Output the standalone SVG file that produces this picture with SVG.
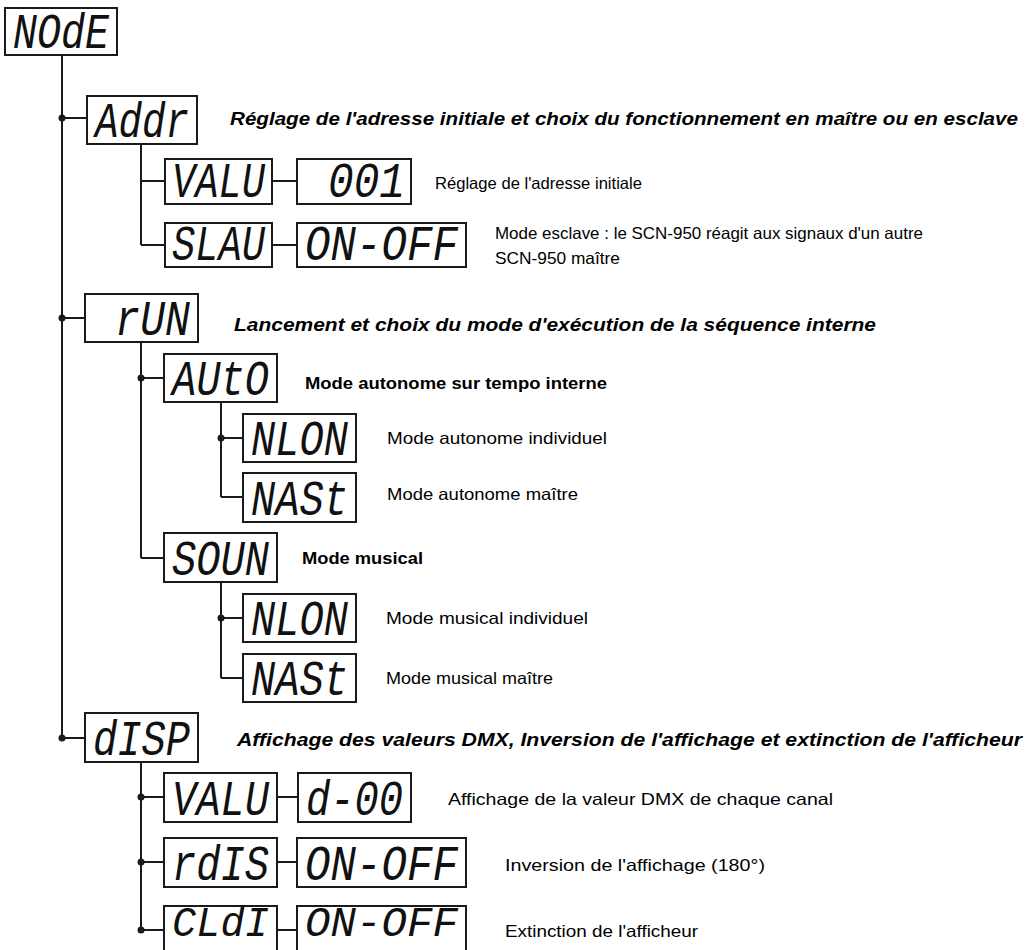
<svg xmlns="http://www.w3.org/2000/svg" width="1030" height="950" viewBox="0 0 1030 950">
<style>
.box{fill:#fff;stroke:#1a1a1a;stroke-width:2}
.seg{font-family:"Liberation Mono","DejaVu Sans Mono",monospace;font-style:italic;font-size:50px;fill:#111}
.segs{font-family:"Liberation Mono","DejaVu Sans Mono",monospace;font-style:italic;font-size:42px;fill:#111}
.ln{stroke:#1a1a1a;stroke-width:2;fill:none}
.dot{fill:#1a1a1a}
.h{font-family:"Liberation Sans",Arial,sans-serif;font-weight:bold;font-style:italic;font-size:18px;fill:#000}
.b{font-family:"Liberation Sans",Arial,sans-serif;font-weight:bold;font-size:17px;fill:#000}
.t{font-family:"Liberation Sans",Arial,sans-serif;font-size:16.5px;fill:#000}
</style>
<rect width="1030" height="950" fill="#fff"/>
<g id="connectors">
<path class="ln" d="M62 55V738M62 118H87M62 318H85M62 738H85"/>
<path class="ln" d="M141 144V245M141 181H165M141 245H165M272 181H297M272 245H297"/>
<path class="ln" d="M141 342V558M141 378H164M141 558H164"/>
<path class="ln" d="M221 402V497M221 438H243M221 497H243"/>
<path class="ln" d="M221 582V678M221 618H243M221 678H243"/>
<path class="ln" d="M141 762V930M141 797H164M141 862H164M141 930H164M277 797H298M277 862H297M277 930H297"/>
<circle class="dot" cx="62" cy="118" r="3.5"/>
<circle class="dot" cx="62" cy="318" r="3.5"/>
<circle class="dot" cx="62" cy="738" r="3.5"/>
<circle class="dot" cx="141" cy="378" r="3.5"/>
<circle class="dot" cx="221" cy="438" r="3.5"/>
<circle class="dot" cx="221" cy="618" r="3.5"/>
<circle class="dot" cx="141" cy="797" r="3.5"/>
<circle class="dot" cx="141" cy="862" r="3.5"/>
<circle class="dot" cx="141" cy="930" r="3.5"/>
</g>
<g id="mode"><rect class="box" x="5" y="8" width="112" height="47"/><text class="seg" x="13" y="48" textLength="96" lengthAdjust="spacingAndGlyphs">NOdE</text></g>
<g id="addr"><rect class="box" x="87" y="96" width="110" height="48"/><text class="seg" x="95" y="137" textLength="94" lengthAdjust="spacingAndGlyphs">Addr</text>
<text class="h" x="230" y="125" textLength="788" lengthAdjust="spacingAndGlyphs">Réglage de l'adresse initiale et choix du fonctionnement en maître ou en esclave</text></g>
<g id="addr-valu"><rect class="box" x="165" y="159" width="107" height="45"/><text class="seg" x="172" y="197" textLength="93" lengthAdjust="spacingAndGlyphs">VALU</text></g>
<g id="addr-001"><rect class="box" x="297" y="159" width="114" height="45"/><text class="seg" x="328" y="197" textLength="77" lengthAdjust="spacingAndGlyphs">001</text>
<text class="t" x="435" y="189" textLength="207" lengthAdjust="spacingAndGlyphs">Réglage de l'adresse initiale</text></g>
<g id="addr-slau"><rect class="box" x="165" y="223" width="107" height="44"/><text class="seg" x="172" y="260" textLength="93" lengthAdjust="spacingAndGlyphs">SLAU</text></g>
<g id="addr-onoff"><rect class="box" x="297" y="223" width="169" height="44"/><text class="seg" x="305" y="260" textLength="153" lengthAdjust="spacingAndGlyphs">ON-OFF</text>
<text class="t" x="495" y="239" textLength="428" lengthAdjust="spacingAndGlyphs">Mode esclave : le SCN-950 réagit aux signaux d'un autre</text>
<text class="t" x="495" y="264" textLength="125" lengthAdjust="spacingAndGlyphs">SCN-950 maître</text></g>
<g id="run"><rect class="box" x="85" y="294" width="113" height="48"/><text class="seg" x="115" y="335" textLength="75" lengthAdjust="spacingAndGlyphs">rUN</text>
<text class="h" x="234" y="331" textLength="642" lengthAdjust="spacingAndGlyphs">Lancement et choix du mode d'exécution de la séquence interne</text></g>
<g id="auto"><rect class="box" x="164" y="354" width="113" height="48"/><text class="seg" x="172" y="395" textLength="97" lengthAdjust="spacingAndGlyphs">AUtO</text>
<text class="b" x="305" y="389" textLength="302" lengthAdjust="spacingAndGlyphs">Mode autonome sur tempo interne</text></g>
<g id="auto-nlon"><rect class="box" x="243" y="414" width="113" height="48"/><text class="seg" x="251" y="455" textLength="97" lengthAdjust="spacingAndGlyphs">NLON</text>
<text class="t" x="387" y="444" textLength="220" lengthAdjust="spacingAndGlyphs">Mode autonome individuel</text></g>
<g id="auto-nast"><rect class="box" x="243" y="473" width="113" height="49"/><text class="seg" x="251" y="515" textLength="97" lengthAdjust="spacingAndGlyphs">NASt</text>
<text class="t" x="387" y="500" textLength="191" lengthAdjust="spacingAndGlyphs">Mode autonome maître</text></g>
<g id="soun"><rect class="box" x="164" y="533" width="113" height="49"/><text class="seg" x="172" y="575" textLength="97" lengthAdjust="spacingAndGlyphs">SOUN</text>
<text class="b" x="302" y="564" textLength="121" lengthAdjust="spacingAndGlyphs">Mode musical</text></g>
<g id="soun-nlon"><rect class="box" x="243" y="594" width="113" height="48"/><text class="seg" x="251" y="635" textLength="97" lengthAdjust="spacingAndGlyphs">NLON</text>
<text class="t" x="386" y="624" textLength="202" lengthAdjust="spacingAndGlyphs">Mode musical individuel</text></g>
<g id="soun-nast"><rect class="box" x="243" y="654" width="113" height="48"/><text class="seg" x="251" y="695" textLength="97" lengthAdjust="spacingAndGlyphs">NASt</text>
<text class="t" x="386" y="684" textLength="167" lengthAdjust="spacingAndGlyphs">Mode musical maître</text></g>
<g id="disp"><rect class="box" x="85" y="713" width="113" height="49"/><text class="seg" x="93" y="755" textLength="97" lengthAdjust="spacingAndGlyphs">dISP</text>
<text class="h" x="237" y="746" textLength="785" lengthAdjust="spacingAndGlyphs">Affichage des valeurs DMX, Inversion de l'affichage et extinction de l'afficheur</text></g>
<g id="disp-valu"><rect class="box" x="164" y="773" width="113" height="49"/><text class="seg" x="172" y="815" textLength="97" lengthAdjust="spacingAndGlyphs">VALU</text></g>
<g id="disp-d00"><rect class="box" x="298" y="773" width="113" height="49"/><text class="seg" x="306" y="815" textLength="97" lengthAdjust="spacingAndGlyphs">d-00</text>
<text class="t" x="448" y="805" textLength="385" lengthAdjust="spacingAndGlyphs">Affichage de la valeur DMX de chaque canal</text></g>
<g id="disp-rdis"><rect class="box" x="164" y="838" width="113" height="49"/><text class="seg" x="172" y="880" textLength="97" lengthAdjust="spacingAndGlyphs">rdIS</text></g>
<g id="disp-rdis-onoff"><rect class="box" x="297" y="838" width="169" height="49"/><text class="seg" x="305" y="880" textLength="153" lengthAdjust="spacingAndGlyphs">ON-OFF</text>
<text class="t" x="505" y="871" textLength="260" lengthAdjust="spacingAndGlyphs">Inversion de l'affichage (180°)</text></g>
<g id="disp-cldi"><rect class="box" x="164" y="906" width="113" height="49"/><text class="segs" x="172" y="936" textLength="97" lengthAdjust="spacingAndGlyphs">CLdI</text></g>
<g id="disp-cldi-onoff"><rect class="box" x="297" y="906" width="169" height="49"/><text class="segs" x="305" y="936" textLength="153" lengthAdjust="spacingAndGlyphs">ON-OFF</text>
<text class="t" x="505" y="937" textLength="193" lengthAdjust="spacingAndGlyphs">Extinction de l'afficheur</text></g>
</svg>
